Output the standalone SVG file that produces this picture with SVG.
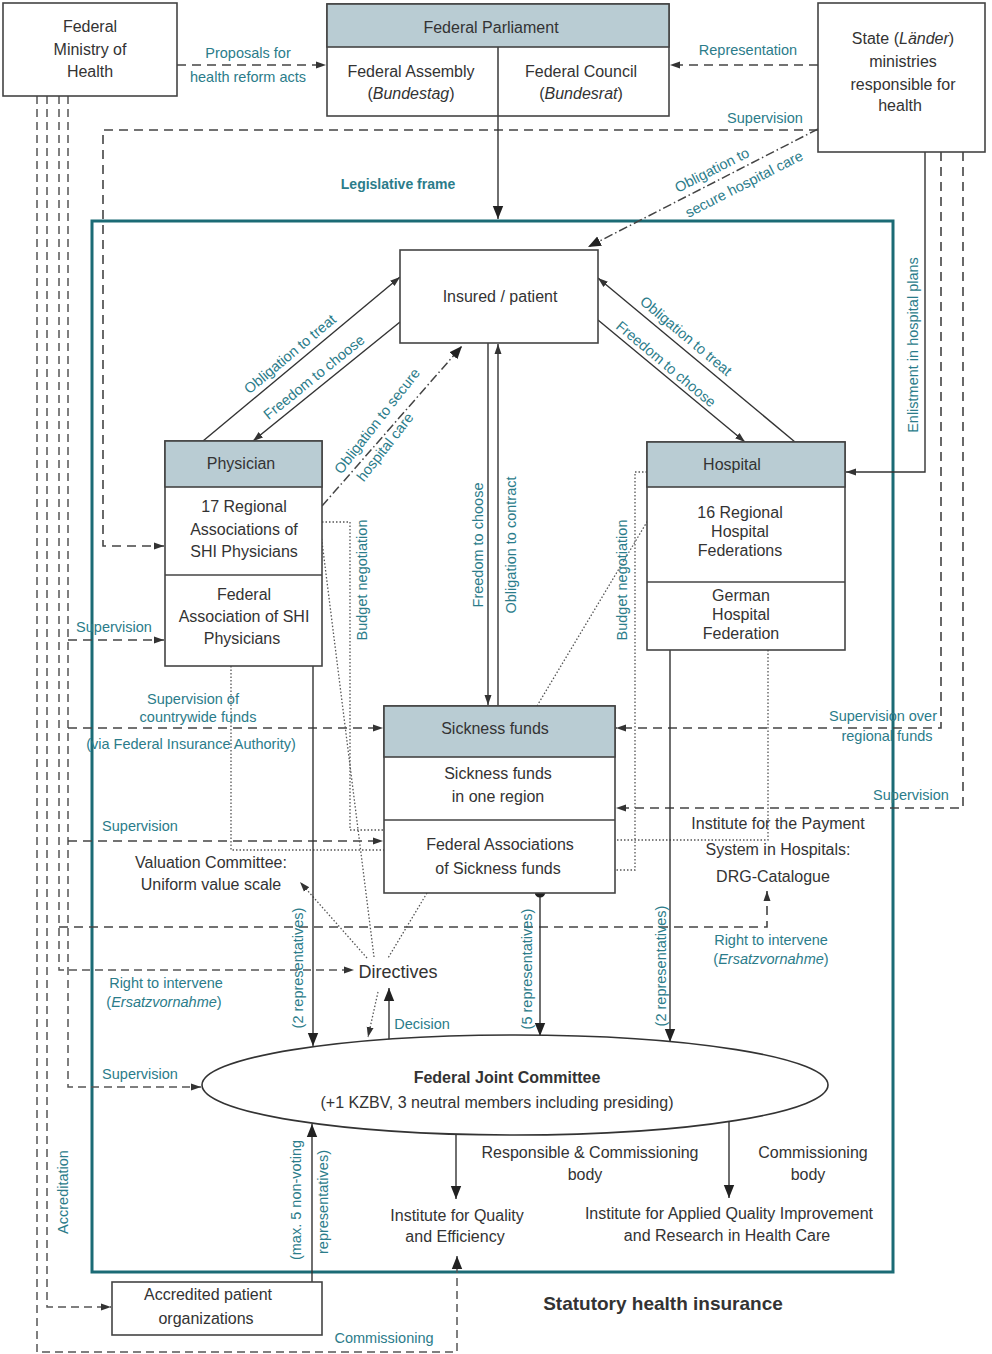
<svg xmlns="http://www.w3.org/2000/svg" width="992" height="1354" viewBox="0 0 992 1354">
<style>
text{font-family:'Liberation Sans Narrow','Liberation Sans',Arial,sans-serif;}
.t{font-size:16px;fill:#333;text-anchor:middle;}
.l{font-size:14.5px;fill:#2b7c8a;text-anchor:middle;}
.c{dominant-baseline:central;}
.b{font-weight:bold;}
.i{font-style:italic;}
.box{fill:#fff;stroke:#444;stroke-width:1.6;}
.hd{fill:#b9ccd3;stroke:#444;stroke-width:1.6;}
.sl{fill:none;stroke:#333;stroke-width:1.4;}
.dl{fill:none;stroke:#444;stroke-width:1.6;stroke-dasharray:9 6;}
.dv{fill:none;stroke:#555;stroke-width:1.5;stroke-dasharray:8 5;}
.dd{fill:none;stroke:#555;stroke-width:1.3;stroke-dasharray:1.5 2;}
.dc{fill:none;stroke:#444;stroke-width:1.5;stroke-dasharray:9 3 1.5 3;}
</style>
<defs>
<marker id="a" viewBox="0 0 10 10" refX="10" refY="5" markerWidth="10" markerHeight="10" orient="auto" markerUnits="userSpaceOnUse"><path d="M0,1.5 L10,5 L0,8.5 z" fill="#333"/></marker>
<marker id="A" viewBox="0 0 10 10" refX="10" refY="5" markerWidth="13" markerHeight="13" orient="auto" markerUnits="userSpaceOnUse"><path d="M0,1 L10,5 L0,9 z" fill="#222"/></marker>
<marker id="d" viewBox="0 0 10 10" refX="5" refY="5" markerWidth="11" markerHeight="11" markerUnits="userSpaceOnUse"><circle cx="5" cy="5" r="5" fill="#222"/></marker>
</defs>
<rect width="992" height="1354" fill="#fff"/>

<rect id="shi-frame" x="92" y="221" width="801" height="1051" fill="none" stroke="#1b6b75" stroke-width="3"/>

<g id="connectors">
<line class="dl" x1="177" y1="65" x2="326" y2="65" marker-end="url(#a)"/>
<line class="dl" x1="818" y1="65" x2="670" y2="65" marker-end="url(#a)"/>
<polyline class="dl" points="818,130 103,130 103,546 164,546" marker-end="url(#a)"/>
<line class="sl" x1="498" y1="116" x2="498" y2="219" stroke-width="2.6" marker-end="url(#A)"/>
<line class="dc" x1="818" y1="129" x2="588" y2="247" marker-end="url(#A)"/>
<line class="sl" x1="203" y1="441" x2="400" y2="277" marker-end="url(#a)"/>
<line class="sl" x1="400" y1="322" x2="253" y2="441" marker-end="url(#a)"/>
<line class="sl" x1="795" y1="442" x2="598" y2="278" marker-end="url(#a)"/>
<line class="sl" x1="598" y1="320" x2="745" y2="442" marker-end="url(#a)"/>
<line class="dc" x1="322" y1="506" x2="462" y2="346" marker-end="url(#A)"/>
<line class="sl" x1="488" y1="343" x2="488" y2="705" marker-end="url(#a)"/>
<line class="sl" x1="498" y1="706" x2="498" y2="344" marker-end="url(#a)"/>
<polyline class="sl" points="925,152 925,472 846,472" marker-end="url(#a)"/>
<polyline class="dl" points="941,152 941,728 616,728" marker-end="url(#a)"/>
<polyline class="dl" points="963,152 963,808 616,808" marker-end="url(#a)"/>
<polyline class="dv" points="37,96 37,1352 457,1352 457,1256" marker-end="url(#A)"/>
<polyline class="dv" points="47,96 47,1307 111,1307" marker-end="url(#a)"/>
<polyline class="dv" points="59,96 59,970 354,970" marker-end="url(#a)"/>
<polyline class="dl" points="59,927 767,927 767,891" marker-end="url(#a)"/>
<polyline class="dv" points="68,96 68,1087 201,1087" marker-end="url(#a)"/>
<line class="dl" x1="68" y1="640" x2="164" y2="640" marker-end="url(#a)"/>
<line class="dl" x1="68" y1="728" x2="383" y2="728" marker-end="url(#a)"/>
<line class="dl" x1="68" y1="841" x2="383" y2="841" marker-end="url(#a)"/>
<polyline class="dd" points="322,522 350,522 350,830 384,830"/>
<polyline class="dd" points="231,666 231,850 384,850"/>
<line class="dd" x1="374" y1="957" x2="313" y2="470" marker-end="url(#A)"/>
<polyline class="dd" points="647,472 635,472 635,870 615,870"/>
<polyline class="dd" points="768,650 768,840 615,840"/>
<line class="dd" x1="537" y1="706" x2="681" y2="465" marker-end="url(#A)"/>
<line class="dd" x1="367" y1="958" x2="300" y2="882" marker-end="url(#a)"/>
<line class="dd" x1="427" y1="893" x2="388" y2="958"/>
<line class="dd" x1="378" y1="992" x2="368" y2="1037" marker-end="url(#a)"/>
<line class="sl" x1="389" y1="1040" x2="389" y2="988" stroke-width="1.8" marker-end="url(#A)"/>
<line class="sl" x1="313" y1="652" x2="313" y2="1046" stroke-width="2" marker-start="url(#d)" marker-end="url(#A)"/>
<line class="sl" x1="540" y1="892" x2="540" y2="1036" stroke-width="2" marker-start="url(#d)" marker-end="url(#A)"/>
<line class="sl" x1="670" y1="650" x2="670" y2="1042" stroke-width="1.6" marker-end="url(#A)"/>
<line class="sl" x1="312" y1="1292" x2="312" y2="1124" stroke-width="2" marker-start="url(#d)" marker-end="url(#A)"/>
<line class="sl" x1="456" y1="1134" x2="456" y2="1199" stroke-width="1.6" marker-end="url(#A)"/>
<line class="sl" x1="729" y1="1121" x2="729" y2="1198" stroke-width="1.6" marker-end="url(#A)"/>
</g>

<g id="connector-labels">
<text class="l" x="248" y="58">Proposals for</text>
<text class="l" x="248" y="82">health reform acts</text>
<text class="l" x="748" y="55">Representation</text>
<text class="l" x="765" y="123">Supervision</text>
<text class="l b" x="398" y="189" style="font-size:14px">Legislative frame</text>
<text class="l c" transform="translate(712,170) rotate(-27)">Obligation to</text>
<text class="l c" transform="translate(744,184) rotate(-27)">secure hospital care</text>
<text class="l c" transform="translate(290,354) rotate(-40)">Obligation to treat</text>
<text class="l c" transform="translate(314,377) rotate(-39)">Freedom to choose</text>
<text class="l c" transform="translate(686,336) rotate(40)">Obligation to treat</text>
<text class="l c" transform="translate(666,364) rotate(40)">Freedom to choose</text>
<text class="l c" transform="translate(377,421) rotate(-52)">Obligation to secure</text>
<text class="l c" transform="translate(385,447) rotate(-52)">hospital care</text>
<text class="l c" transform="translate(478,545) rotate(-90)">Freedom to choose</text>
<text class="l c" transform="translate(511,545) rotate(-90)">Obligation to contract</text>
<text class="l c" transform="translate(362,580) rotate(-90)">Budget negotiation</text>
<text class="l c" transform="translate(622,580) rotate(-90)">Budget negotiation</text>
<text class="l c" transform="translate(913,345) rotate(-90)">Enlistment in hospital plans</text>
<text class="l" x="114" y="632">Supervision</text>
<text class="l" x="193" y="704">Supervision of</text>
<text class="l" x="198" y="722">countrywide funds</text>
<text class="l" x="191" y="749">(via Federal Insurance Authority)</text>
<text class="l" x="883" y="721">Supervision over</text>
<text class="l" x="887" y="741">regional funds</text>
<text class="l" x="911" y="800">Supervision</text>
<text class="l" x="140" y="831">Supervision</text>
<text class="l" x="771" y="945">Right to intervene</text>
<text class="l" x="771" y="964">(<tspan class="i">Ersatzvornahme</tspan>)</text>
<text class="l" x="166" y="988">Right to intervene</text>
<text class="l" x="164" y="1007">(<tspan class="i">Ersatzvornahme</tspan>)</text>
<text class="l c" transform="translate(298,968) rotate(-90)">(2 representatives)</text>
<text class="l c" transform="translate(527,969) rotate(-90)">(5 representatives)</text>
<text class="l c" transform="translate(661,966) rotate(-90)">(2 representatives)</text>
<text class="l" x="422" y="1029">Decision</text>
<text class="l" x="140" y="1079">Supervision</text>
<text class="t" x="590" y="1158">Responsible &amp; Commissioning</text>
<text class="t" x="585" y="1180">body</text>
<text class="t" x="813" y="1158">Commissioning</text>
<text class="t" x="808" y="1180">body</text>
<text class="l c" transform="translate(63,1192) rotate(-90)">Accreditation</text>
<text class="l c" transform="translate(296,1200) rotate(-90)">(max. 5 non-voting</text>
<text class="l c" transform="translate(323,1202) rotate(-90)">representatives)</text>
<text class="l" x="384" y="1343">Commissioning</text>
</g>

<g id="ministry">
<rect class="box" x="3" y="3" width="174" height="93"/>
<text class="t" x="90" y="32">Federal</text>
<text class="t" x="90" y="55">Ministry of</text>
<text class="t" x="90" y="77">Health</text>
</g>

<g id="parliament">
<rect class="box" x="327" y="4" width="342" height="112"/>
<rect class="hd" x="327" y="4" width="342" height="43"/>
<line x1="498" y1="47" x2="498" y2="116" stroke="#444" stroke-width="1.6"/>
<text class="t" x="491" y="33">Federal Parliament</text>
<text class="t" x="411" y="77">Federal Assembly</text>
<text class="t" x="411" y="99">(<tspan class="i">Bundestag</tspan>)</text>
<text class="t" x="581" y="77">Federal Council</text>
<text class="t" x="581" y="99">(<tspan class="i">Bundesrat</tspan>)</text>
</g>

<g id="state">
<rect class="box" x="818" y="3" width="167" height="149"/>
<text class="t" x="903" y="44">State (<tspan class="i">Länder</tspan>)</text>
<text class="t" x="903" y="67">ministries</text>
<text class="t" x="903" y="90">responsible for</text>
<text class="t" x="900" y="111">health</text>
</g>

<g id="insured">
<rect class="box" x="400" y="250" width="198" height="93"/>
<text class="t" x="500" y="302">Insured / patient</text>
</g>

<g id="physician">
<rect class="box" x="165" y="441" width="157" height="225"/>
<rect class="hd" x="165" y="441" width="157" height="46"/>
<line x1="165" y1="575" x2="322" y2="575" stroke="#444" stroke-width="1.6"/>
<text class="t" x="241" y="469">Physician</text>
<text class="t" x="244" y="512">17 Regional</text>
<text class="t" x="244" y="535">Associations of</text>
<text class="t" x="244" y="557">SHI Physicians</text>
<text class="t" x="244" y="600">Federal</text>
<text class="t" x="244" y="622">Association of SHI</text>
<text class="t" x="242" y="644">Physicians</text>
</g>

<g id="hospital">
<rect class="box" x="647" y="442" width="198" height="208"/>
<rect class="hd" x="647" y="442" width="198" height="45"/>
<line x1="647" y1="582" x2="845" y2="582" stroke="#444" stroke-width="1.6"/>
<text class="t" x="732" y="470">Hospital</text>
<text class="t" x="740" y="518">16 Regional</text>
<text class="t" x="740" y="537">Hospital</text>
<text class="t" x="740" y="556">Federations</text>
<text class="t" x="741" y="601">German</text>
<text class="t" x="741" y="620">Hospital</text>
<text class="t" x="741" y="639">Federation</text>
</g>

<g id="sickness-funds">
<rect class="box" x="384" y="706" width="231" height="187"/>
<rect class="hd" x="384" y="706" width="231" height="51"/>
<line x1="384" y1="820" x2="615" y2="820" stroke="#444" stroke-width="1.6"/>
<text class="t" x="495" y="734">Sickness funds</text>
<text class="t" x="498" y="779">Sickness funds</text>
<text class="t" x="498" y="802">in one region</text>
<text class="t" x="500" y="850">Federal Associations</text>
<text class="t" x="498" y="874">of Sickness funds</text>
</g>

<g id="valuation-committee">
<text class="t" x="211" y="868">Valuation Committee:</text>
<text class="t" x="211" y="890">Uniform value scale</text>
</g>

<g id="directives">
<text class="t" x="398" y="978" style="font-size:18px">Directives</text>
</g>

<g id="drg">
<text class="t" x="778" y="829">Institute for the Payment</text>
<text class="t" x="778" y="855">System in Hospitals:</text>
<text class="t" x="773" y="882">DRG-Catalogue</text>
</g>

<g id="joint-committee">
<ellipse cx="515" cy="1085" rx="313" ry="50" fill="#fff" stroke="#333" stroke-width="1.6"/>
<text class="t b" x="507" y="1083">Federal Joint Committee</text>
<text class="t" x="497" y="1108">(+1 KZBV, 3 neutral members including presiding)</text>
</g>

<g id="iqwig">
<text class="t" x="457" y="1221">Institute for Quality</text>
<text class="t" x="455" y="1242">and Efficiency</text>
</g>

<g id="aqua">
<text class="t" x="729" y="1219">Institute for Applied Quality Improvement</text>
<text class="t" x="727" y="1241">and Research in Health Care</text>
</g>

<g id="patient-orgs">
<rect class="box" x="112" y="1282" width="210" height="53"/>
<text class="t" x="208" y="1300">Accredited patient</text>
<text class="t" x="206" y="1324">organizations</text>
</g>

<text class="t b" x="663" y="1310" style="font-size:19px">Statutory health insurance</text>
</svg>
